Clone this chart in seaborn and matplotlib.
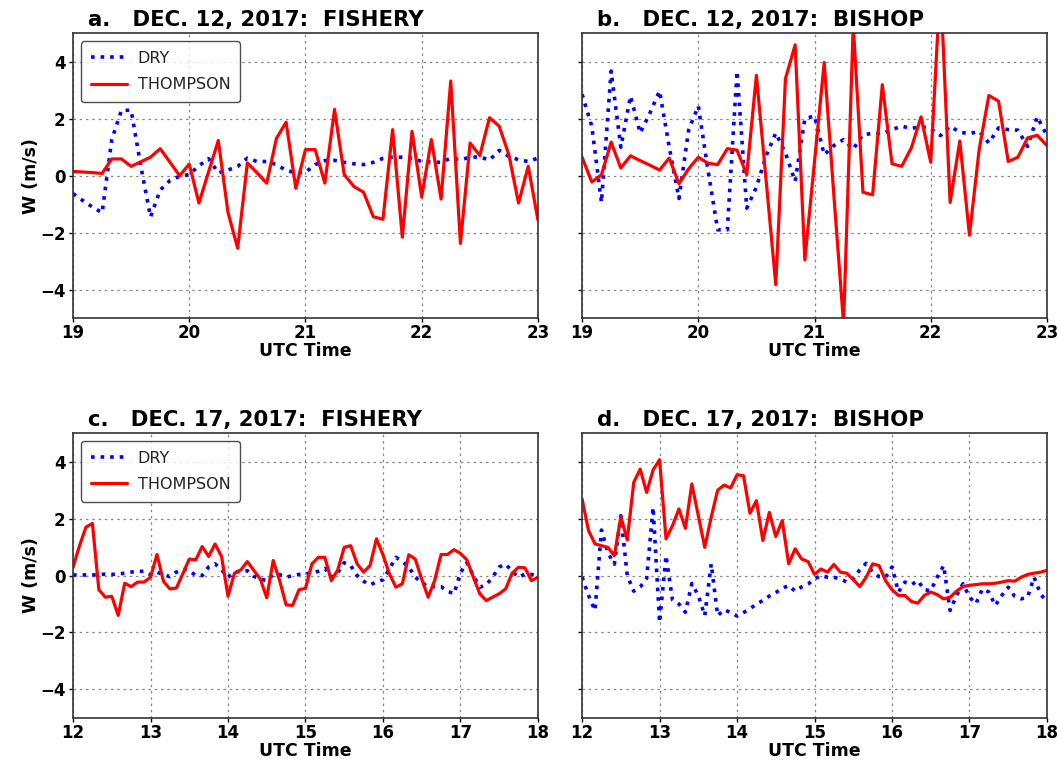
import numpy as np
import pandas as pd
import matplotlib
matplotlib.use("Agg")
import matplotlib.pyplot as plt
import seaborn as sns

# Vertical velocity W (m/s) at 5-minute output steps
hours_dec12 = 19 + np.arange(49) * 5 / 60
hours_dec17 = 12 + np.arange(73) * 5 / 60

fishery12_dry = [-0.63, -0.87, -1.1, -1.3, 1.27, 2.3, 2.3, 0.33, -1.45, -0.5,
                 -0.17, -0.02, 0.04, 0.35, 0.6, 0.1, 0.2, 0.33, 0.62, 0.5,
                 0.5, 0.39, 0.19, 0.1, 0.12, 0.39, 0.53, 0.54, 0.47, 0.42,
                 0.39, 0.47, 0.61, 0.65, 0.65, 0.61, 0.5, 0.48, 0.47, 0.62,
                 0.56, 0.65, 0.66, 0.55, 0.89, 0.68, 0.56, 0.5, 0.62]
fishery12_thompson = [0.15, 0.13, 0.11, 0.08, 0.59, 0.59, 0.33, 0.49, 0.65, 0.95,
                      0.48, 0.0, 0.41, -0.96, 0.14, 1.24, -1.29, -2.55, 0.45, 0.1,
                      -0.26, 1.31, 1.88, -0.44, 0.92, 0.92, -0.26, 2.33, 0.04, -0.38,
                      -0.58, -1.44, -1.53, 1.62, -2.16, 1.56, -0.75, 1.27, -0.82, 3.33,
                      -2.38, 1.15, 0.71, 2.04, 1.74, 0.74, -0.96, 0.33, -1.55]

bishop12_dry = [2.86, 1.74, -0.94, 3.68, 1.0, 2.8, 1.5, 2.2, 2.98, 1.0,
                -0.8, 1.6, 2.45, 0.2, -1.9, -1.9, 3.68, -1.14, -0.4, 0.7,
                1.5, 0.8, -0.2, 2.0, 2.1, 0.74, 1.06, 1.27, 0.94, 1.45,
                1.48, 1.48, 1.62, 1.74, 1.66, 1.73, 1.65, 1.41, 1.74, 1.53,
                1.48, 1.56, 1.15, 1.68, 1.62, 1.6, 1.03, 2.07, 1.41]
bishop12_thompson = [0.65, -0.22, 0.03, 1.18, 0.27, 0.7, 0.53, 0.37, 0.2, 0.62,
                     -0.28, 0.24, 0.65, 0.44, 0.39, 0.95, 0.9, 0.04, 3.53, -0.15,
                     -3.83, 3.41, 4.6, -2.96, 0.5, 3.98, -0.7, -5.2, 5.3, -0.58,
                     -0.67, 3.2, 0.42, 0.33, 0.98, 2.07, 0.47, 6.8, -0.94, 1.22,
                     -2.09, 0.92, 2.82, 2.62, 0.5, 0.65, 1.33, 1.42, 1.06]

fishery17_dry = [0.02, 0.02, 0.02, 0.02, 0.03, 0.05, 0.04, 0.06, 0.08, 0.12,
                 0.15, 0.15, 0.03, 0.12, 0.03, -0.04, 0.12, 0.23, 0.18, 0.0,
                 0.0, 0.3, 0.41, 0.2, -0.06, 0.12, 0.15, 0.17, -0.03, -0.12,
                 -0.18, 0.03, 0.03, -0.06, 0.0, 0.04, 0.05, 0.1, 0.15, 0.25,
                 -0.05, 0.1, 0.45, 0.35, 0.0, -0.2, -0.33, -0.22, -0.15, 0.23,
                 0.64, 0.5, 0.3, -0.06, -0.24, -0.41, -0.39, -0.39, -0.55, -0.64,
                 0.1, 0.45, 0.0, -0.41, -0.33, -0.05, 0.3, 0.4, 0.15, -0.06,
                 0.05, 0.04, -0.03]
fishery17_thompson = [0.29, 1.05, 1.7, 1.83, -0.5, -0.76, -0.73, -1.4, -0.27, -0.39,
                      -0.23, -0.23, -0.06, 0.74, -0.2, -0.47, -0.44, 0.06, 0.58, 0.55,
                      1.02, 0.67, 1.11, 0.67, -0.73, 0.08, 0.2, 0.49, 0.18, -0.12,
                      -0.78, 0.53, -0.18, -1.03, -1.05, -0.5, -0.45, 0.41, 0.64, 0.64,
                      -0.18, 0.2, 0.99, 1.05, 0.41, 0.12, 0.35, 1.29, 0.73, 0.06,
                      -0.41, -0.29, 0.73, 0.58, -0.12, -0.76, -0.18, 0.74, 0.74, 0.91,
                      0.78, 0.55, -0.06, -0.64, -0.88, -0.76, -0.64, -0.47, 0.08, 0.29,
                      0.27, -0.18, -0.06]

bishop17_dry = [-0.05, -0.7, -1.23, 1.6, 0.8, 0.4, 2.1, 0.0, -0.55, -0.4,
                -0.1, 2.4, -1.65, 0.7, -0.85, -1.0, -1.29, -0.28, -0.7, -1.41,
                0.41, -1.41, -1.2, -1.3, -1.42, -1.3, -1.17, -1.0, -0.88, -0.72,
                -0.6, -0.45, -0.35, -0.55, -0.4, -0.3, -0.12, 0.0, -0.06, -0.06,
                -0.12, -0.23, -0.12, 0.2, 0.43, 0.12, -0.04, -0.06, 0.3, -0.58,
                -0.23, -0.32, -0.18, -0.5, -0.53, -0.06, 0.35, -1.23, -0.7, -0.29,
                -0.76, -0.99, -0.47, -0.58, -1.05, -0.7, -0.41, -0.73, -0.82, -0.76,
                -0.06, -0.64, -0.94]
bishop17_thompson = [2.69, 1.58, 1.11, 1.05, 0.99, 0.7, 2.07, 1.25, 3.27, 3.74,
                     2.92, 3.71, 4.07, 1.29, 1.75, 2.34, 1.66, 3.22, 2.11, 0.99,
                     2.05, 3.0, 3.18, 3.08, 3.54, 3.51, 2.19, 2.63, 1.23, 2.22,
                     1.37, 1.93, 0.41, 0.94, 0.58, 0.49, 0.04, 0.23, 0.12, 0.39,
                     0.12, 0.08, -0.14, -0.39, -0.06, 0.41, 0.35, -0.18, -0.5, -0.7,
                     -0.7, -0.91, -0.97, -0.7, -0.58, -0.67, -0.82, -0.76, -0.55, -0.39,
                     -0.34, -0.32, -0.29, -0.29, -0.27, -0.23, -0.18, -0.2, -0.06, 0.04,
                     0.08, 0.12, 0.18]

panel_titles = ["a.   DEC. 12, 2017:  FISHERY", "b.   DEC. 12, 2017:  BISHOP",
                "c.   DEC. 17, 2017:  FISHERY", "d.   DEC. 17, 2017:  BISHOP"]
xticks_dec12 = [19, 20, 21, 22, 23]
xticks_dec17 = [12, 13, 14, 15, 16, 17, 18]
yticks = [-4, -2, 0, 2, 4]

sns.set_style("ticks")
plt.rcParams["font.family"] = ["DejaVu Sans"]
plt.rcParams["text.color"] = "black"
plt.rcParams["axes.labelcolor"] = "black"

fig, axes = plt.subplots(2, 2, figsize=(10.57, 7.6), dpi=100)
fig.subplots_adjust(left=0.0691, right=0.9905, bottom=0.0555, top=0.956,
                    wspace=0.095, hspace=0.405)

panels = [
    (axes[0, 0], hours_dec12, fishery12_dry, fishery12_thompson, xticks_dec12, True),
    (axes[0, 1], hours_dec12, bishop12_dry, bishop12_thompson, xticks_dec12, False),
    (axes[1, 0], hours_dec17, fishery17_dry, fishery17_thompson, xticks_dec17, True),
    (axes[1, 1], hours_dec17, bishop17_dry, bishop17_thompson, xticks_dec17, False),
]

for (ax, hrs, dry, thom, xt, left_col), title in zip(panels, panel_titles):
    df = pd.DataFrame({"hour": hrs, "DRY": dry, "THOMPSON": thom})
    sns.lineplot(data=df, x="hour", y="DRY", ax=ax, color="#0000ff",
                 linestyle=":", linewidth=2.6, label="DRY" if left_col else None,
                 legend=left_col)
    sns.lineplot(data=df, x="hour", y="THOMPSON", ax=ax, color="#ff0000",
                 linestyle="-", linewidth=2.3, label="THOMPSON" if left_col else None,
                 legend=left_col)
    ax.set_xlim(xt[0], xt[-1])
    ax.set_ylim(-5, 5)
    ax.set_xticks(xt)
    ax.set_yticks(yticks)
    ax.grid(True, linestyle=(0, (2, 3)), color="#888888", linewidth=0.9)
    for s in ax.spines.values():
        s.set_color("#333333")
        s.set_linewidth(1.2)
    ax.tick_params(axis="both", direction="out", length=3, width=1.0,
                   labelsize=12, colors="black")
    ax.tick_params(axis="x", pad=1.5)
    ax.tick_params(axis="y", pad=2.5)
    for lab in ax.get_xticklabels() + ax.get_yticklabels():
        lab.set_fontweight("bold")
    ax.set_xlabel("UTC Time", fontsize=12.5, fontweight="bold", labelpad=0)
    if left_col:
        ax.set_ylabel("W (m/s)", fontsize=12.5, fontweight="bold", labelpad=0)
        leg = ax.legend(loc="upper left", fontsize=11.5, frameon=True,
                        handlelength=2.25, handletextpad=0.7, borderpad=0.6,
                        labelspacing=0.7, fancybox=True)
        leg.get_frame().set_edgecolor("#222222")
        leg.get_frame().set_linewidth(1.0)
        for txt in leg.get_texts():
            txt.set_color("#222222")
    else:
        ax.set_ylabel("")
        ax.set_yticklabels([])
    ax.text(0.033, 1.012, title, transform=ax.transAxes, ha="left", va="bottom",
            fontsize=15.3, fontweight="bold", color="black")

fig.savefig("out.png", dpi=100)
